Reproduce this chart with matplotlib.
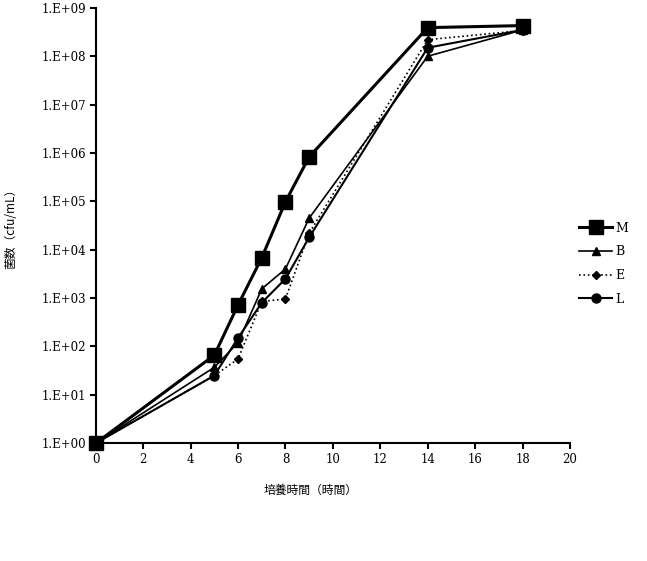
import math
import matplotlib
matplotlib.use("Agg")
import matplotlib.pyplot as plt
from matplotlib import rcParams
from matplotlib.ticker import FixedLocator, FuncFormatter

# 字体设置
rcParams["font.family"] = ["DejaVu Serif", "Noto Sans CJK JP"]
rcParams["font.size"] = 8.5

# 数据
hours = [0, 5, 6, 7, 8, 9, 14, 18]
m_vals = [1, 66, 720, 6800, 98000, 8.3e5, 3.9e8, 4.3e8]
b_vals = [1, 37, 120, 1550, 4000, 45000, 1.0e8, 3.5e8]
e_vals = [1, 25, 55, 850, 960, 22000, 2.2e8, 3.4e8]
l_vals = [1, 25, 150, 800, 2500, 18000, 1.5e8, 3.5e8]
labels = ["M", "B", "E", "L"]
x_ticks = list(range(0, 21, 2))
y_ticks = [10 ** k for k in range(0, 10)]

fig = plt.figure(figsize=(6.47, 5.61), dpi=100)
ax = fig.add_axes([0.148, 0.21, 0.733, 0.776])

ax.plot(hours, m_vals, color="black", lw=2.2, marker="s", ms=10, label=labels[0], clip_on=False)
ax.plot(hours, b_vals, color="black", lw=1.2, marker="^", ms=6, label=labels[1], clip_on=False)
ax.plot(hours, e_vals, color="black", lw=1.2, ls=":", marker="D", ms=4, label=labels[2], clip_on=False)
ax.plot(hours, l_vals, color="black", lw=1.5, marker="o", ms=6.5, label=labels[3], clip_on=False)

ax.set_yscale("log")
ax.set_xlim(0, 20)
ax.set_ylim(1, 1e9)
ax.xaxis.set_major_locator(FixedLocator(x_ticks))
ax.yaxis.set_major_locator(FixedLocator(y_ticks))
ax.yaxis.set_minor_locator(FixedLocator([]))
ax.yaxis.set_major_formatter(FuncFormatter(lambda v, p: "1.E+%02d" % round(math.log10(v))))

for side in ["top", "right"]:
    ax.spines[side].set_visible(False)
for side in ["left", "bottom"]:
    ax.spines[side].set_linewidth(1.5)
ax.tick_params(axis="both", direction="out", length=4, width=1.5, pad=3)

ax.set_xlabel("培養時間（時間）", family=["Noto Sans CJK JP"], fontsize=8.5)
ax.set_ylabel("菌数（cfu/mL）", family=["Noto Sans CJK JP"], fontsize=8.5)
ax.xaxis.set_label_coords(0.454, -0.094)
ax.yaxis.set_label_coords(-0.165, 0.5)

fig.legend(loc="center left", bbox_to_anchor=(0.878, 0.53), frameon=False,
           handlelength=2.6, handletextpad=0.3, fontsize=9, labelspacing=0.85)

fig.savefig("out.png", dpi=100)
